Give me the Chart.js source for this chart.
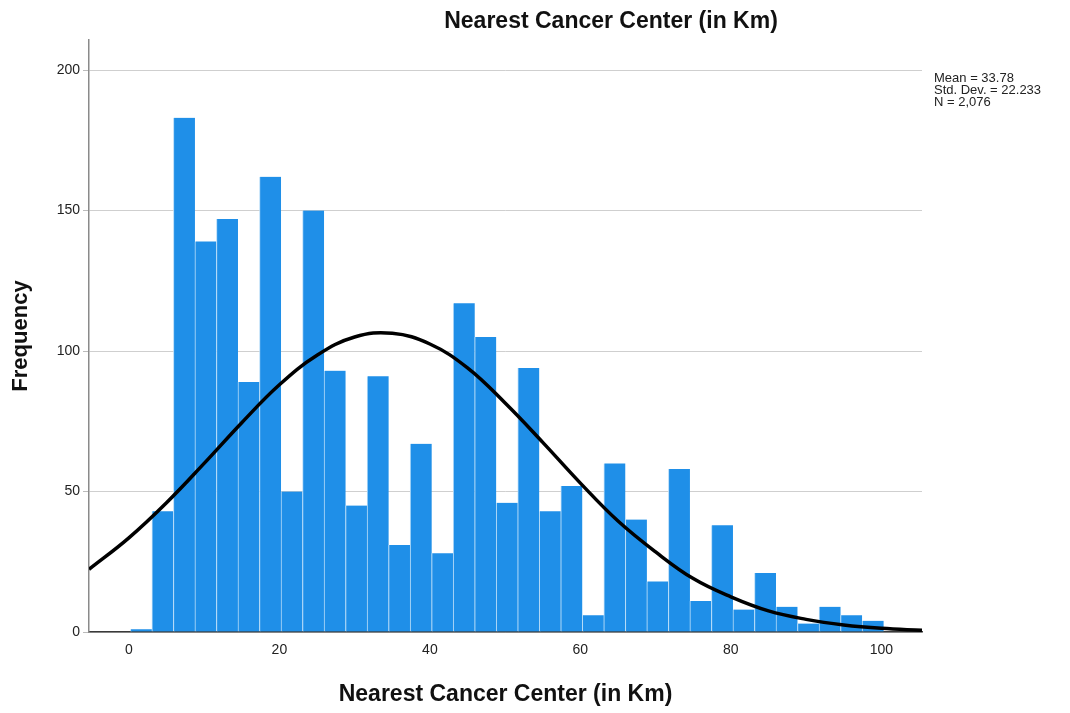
<!DOCTYPE html>
<html>
<head>
<meta charset="utf-8">
<script src="https://cdn.jsdelivr.net/npm/chart.js@4/dist/chart.umd.min.js"></script>
<style>
  html, body { margin: 0; padding: 0; background: #ffffff; }
  #wrap { width: 1070px; height: 713px; }
</style>
</head>
<body>
<div id="wrap"><canvas id="c" width="1070" height="713"></canvas></div>
<script>
// ---- Data ----
const chartTitle = "Nearest Cancer Center (in Km)";
const xAxisTitle = "Nearest Cancer Center (in Km)";
const yAxisTitle = "Frequency";
const binCenters = [1.63, 4.49, 7.35, 10.21, 13.07, 15.93, 18.79, 21.65, 24.51, 27.37,
                    30.23, 33.09, 35.95, 38.81, 41.67, 44.53, 47.39, 50.25, 53.11, 55.97,
                    58.83, 61.69, 64.55, 67.41, 70.27, 73.13, 75.99, 78.85, 81.71, 84.57,
                    87.43, 90.29, 93.15, 96.01, 98.87];
const frequencies = [1, 43, 183, 139, 147, 89, 162, 50, 150, 93,
                     45, 91, 31, 67, 28, 117, 105, 46, 94, 43,
                     52, 6, 60, 40, 18, 58, 11, 38, 8, 21,
                     9, 3, 9, 6, 4];
const curveX = [-5.3, 0, 5, 10, 15, 20, 25, 30, 35, 40, 45, 50, 55, 60, 65, 70, 75, 80, 85, 90, 95, 100, 105.4];
const curveY = [22.3, 33.5, 46, 60, 74.5, 88, 98.5, 105, 106.3, 102.5, 94, 81.5, 67.5, 53, 39.5, 28.5, 19, 12.5, 7.5, 4.5, 2.5, 1.3, 0.6];
const xTicks = [0, 20, 40, 60, 80, 100];
const yTicks = [0, 50, 100, 150, 200];
const statsLines = ["Mean = 33.78", "Std. Dev. = 22.233", "N = 2,076"];

const FONT = "'Liberation Sans', Arial, Helvetica, sans-serif";

const barData = binCenters.map((x, i) => ({ x: x, y: frequencies[i] }));
const curveData = curveX.map((x, i) => ({ x: x, y: curveY[i] }));

const extrasPlugin = {
  id: 'extras',
  afterDraw(chart) {
    const ctx = chart.ctx;
    ctx.save();
    ctx.fillStyle = '#111';
    ctx.font = 'bold 23px ' + FONT;
    ctx.textAlign = 'center';
    ctx.textBaseline = 'alphabetic';
    ctx.fillText(chartTitle, 611, 28);
    ctx.font = '13px ' + FONT;
    ctx.textAlign = 'left';
    ctx.fillStyle = '#222';
    statsLines.forEach((t, i) => ctx.fillText(t, 934, 82 + i * 12));
    ctx.restore();
  }
};

new Chart(document.getElementById('c'), {
  type: 'bar',
  data: {
    datasets: [
      {
        type: 'line',
        data: curveData,
        borderColor: '#000000',
        borderWidth: 3.5,
        pointRadius: 0,
        tension: 0.4,
        fill: false,
        order: 0
      },
      {
        type: 'bar',
        data: barData,
        backgroundColor: '#1f8fe8',
        borderColor: '#b5dbf8',
        borderWidth: { left: 1, right: 0, top: 0, bottom: 0 },
        borderSkipped: false,
        barPercentage: 1.0,
        categoryPercentage: 1.0,
        order: 1
      }
    ]
  },
  options: {
    responsive: false,
    animation: false,
    events: [],
    layout: { padding: { top: 40, right: 148, left: 0, bottom: 0 } },
    plugins: { legend: { display: false }, tooltip: { enabled: false } },
    scales: {
      x: {
        type: 'linear',
        offset: false,
        min: -5.3,
        max: 105.4,
        afterBuildTicks: (axis) => { axis.ticks = xTicks.map(v => ({ value: v })); },
        afterFit: (scale) => { scale.height = 81; },
        grid: { display: false, drawTicks: false, offset: false },
        border: { display: true, color: '#3a3a3a', width: 1.5 },
        ticks: { font: { family: FONT, size: 14 }, color: '#222', padding: 10, maxRotation: 0 },
        title: {
          display: true,
          text: xAxisTitle,
          font: { family: FONT, size: 23, weight: 'bold' },
          color: '#111',
          padding: { top: 5, bottom: 5 }
        }
      },
      y: {
        type: 'linear',
        min: 0,
        max: 210.7,
        afterBuildTicks: (axis) => { axis.ticks = yTicks.map(v => ({ value: v })); },
        afterFit: (scale) => { scale.width = 89; },
        grid: { color: '#cfcfcf', lineWidth: 1, drawTicks: true, tickLength: 6, tickColor: '#bbbbbb' },
        border: { display: true, color: '#8a8a8a', width: 1.5 },
        ticks: { font: { family: FONT, size: 14 }, color: '#222', padding: 3 },
        title: {
          display: true,
          text: yAxisTitle,
          font: { family: FONT, size: 22, weight: 'bold' },
          color: '#111',
          padding: { top: 8, bottom: 8 }
        }
      }
    }
  },
  plugins: [extrasPlugin]
});
</script>
</body>
</html>
